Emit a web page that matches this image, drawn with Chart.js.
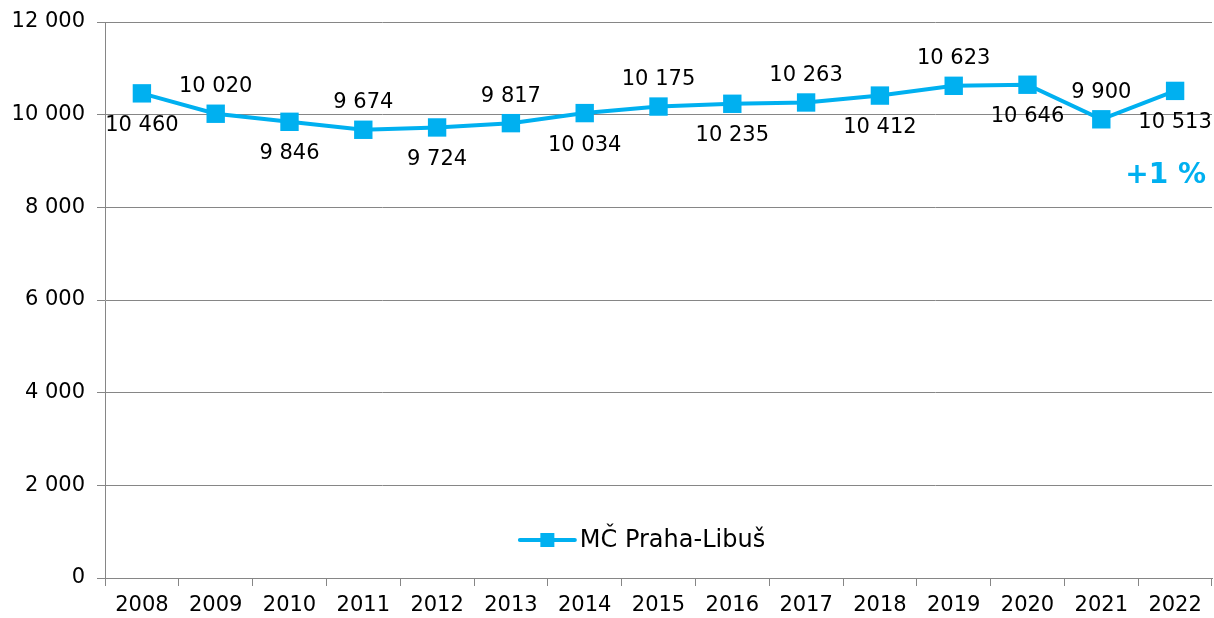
<!DOCTYPE html>
<html>
<head>
<meta charset="utf-8">
<script src="https://cdn.jsdelivr.net/npm/chart.js@4.4.1/dist/chart.umd.min.js"></script>
<style>
  html, body { margin: 0; padding: 0; background: #ffffff; overflow: hidden; }
  canvas { display: block; }
</style>
</head>
<body>
<canvas id="chart" width="1214" height="618"></canvas>
<script>
// data
const years = ["2008", "2009", "2010", "2011", "2012", "2013", "2014", "2015",
  "2016", "2017", "2018", "2019", "2020", "2021", "2022"];
const population = [10460, 10020, 9846, 9674, 9724, 9817, 10034, 10175,
  10235, 10263, 10412, 10623, 10646, 9900, 10513];
const seriesName = "MČ Praha-Libuš";
const changeNote = "+1 %";

const BLUE = "#00b0f0";
const GRID = "#868686";
const FONT = "'DejaVu Sans', Verdana, sans-serif";

const fmt = (v) => String(Math.round(v)).replace(/\B(?=(\d{3})+(?!\d))/g, " ");

// value labels, alternating below / above the points
const valueLabels = {
  id: "valueLabels",
  afterDatasetsDraw(chart) {
    const ctx = chart.ctx;
    const meta = chart.getDatasetMeta(0);
    ctx.save();
    ctx.font = "21px " + FONT;
    ctx.fillStyle = "#000000";
    ctx.textAlign = "center";
    ctx.textBaseline = "middle";
    meta.data.forEach((pt, i) => {
      const below = i % 2 === 0;
      const y = below ? pt.y + 32 : pt.y - 27;
      ctx.fillText(fmt(population[i]), pt.x, y);
    });

    // change note at the right
    const area = chart.chartArea;
    ctx.font = "bold 28px " + FONT;
    ctx.fillStyle = BLUE;
    ctx.textAlign = "right";
    ctx.fillText(changeNote, area.right - 6, area.top + 154);
    ctx.restore();
  }
};

// legend drawn inside the plot area
const innerLegend = {
  id: "innerLegend",
  afterDraw(chart) {
    const ctx = chart.ctx;
    const area = chart.chartArea;
    const ds = chart.data.datasets[0];
    ctx.save();
    ctx.font = "24px " + FONT;
    const textW = ctx.measureText(ds.label).width;
    const lineW = 55;
    const total = lineW + 5 + textW;
    const x0 = (area.left + area.right) / 2 - 16 - total / 2;
    const y = area.bottom - 38;
    ctx.strokeStyle = BLUE;
    ctx.lineWidth = 4;
    ctx.lineCap = "round";
    ctx.beginPath();
    ctx.moveTo(x0, y);
    ctx.lineTo(x0 + lineW, y);
    ctx.stroke();
    ctx.fillStyle = BLUE;
    ctx.fillRect(x0 + lineW / 2 - 7, y - 7, 14, 14);
    ctx.fillStyle = "#000000";
    ctx.textAlign = "left";
    ctx.textBaseline = "middle";
    ctx.fillText(ds.label, x0 + lineW + 5, y + 1);
    ctx.restore();
  }
};

new Chart(document.getElementById("chart"), {
  type: "line",
  data: {
    labels: years,
    datasets: [{
      label: seriesName,
      data: population,
      borderColor: BLUE,
      backgroundColor: BLUE,
      borderWidth: 4,
      pointStyle: "rect",
      pointRadius: 13,
      pointHoverRadius: 13,
      pointBackgroundColor: BLUE,
      pointBorderWidth: 0,
      tension: 0,
      clip: false
    }]
  },
  options: {
    responsive: false,
    animation: false,
    layout: { autoPadding: false, padding: { top: 22, right: 2, bottom: 0, left: 0 } },
    plugins: {
      legend: { display: false },
      tooltip: { enabled: false }
    },
    scales: {
      x: {
        offset: true,
        afterFit: (s) => { s.paddingLeft = 0; s.paddingRight = 0; s.height = 40; },
        grid: {
          offset: true,
          drawOnChartArea: false,
          drawTicks: true,
          tickLength: 8,
          color: GRID
        },
        border: { color: GRID, width: 1 },
        ticks: {
          color: "#000000",
          font: { family: FONT, size: 21 },
          padding: 7,
          maxRotation: 0,
          autoSkip: false
        }
      },
      y: {
        min: 0,
        max: 12000,
        afterFit: (s) => { s.width = 105; s.paddingTop = 0; s.paddingBottom = 0; },
        grid: { color: GRID, lineWidth: 1, tickLength: 8 },
        border: { color: GRID, width: 1 },
        ticks: {
          stepSize: 2000,
          color: "#000000",
          font: { family: FONT, size: 21 },
          padding: 12,
          callback: (v) => fmt(v)
        }
      }
    }
  },
  plugins: [valueLabels, innerLegend]
});
</script>
</body>
</html>
